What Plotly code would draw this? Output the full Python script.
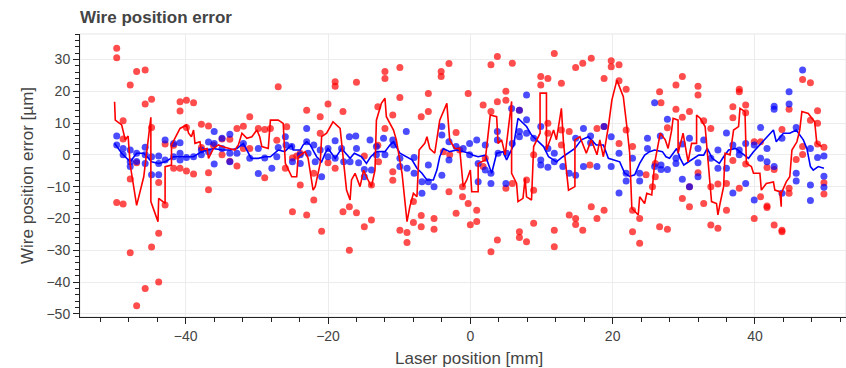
import plotly.graph_objects as go

# ---- data ----
red_x = [-49.7,-49.7,-48.8,-48.8,-49.7,-48.8,-47.8,-47.8,-47.8,-46.9,-46.9,-46.9,-45.7,-45.7,-45.7,-44.8,-44.8,-44.8,-43.8,-43.8,-43.8,-42.9,-42.9,-41.7,-41.7,-40.8,-40.8,-40.8,-39.9,-39.9,-39.9,-38.9,-38.9,-37.8,-37.8,-36.8,-36.8,-36.8,-36.1,-34.9,-34.9,-33.8,-33.8,-32.8,-32.8,-31.9,-31.9,-31.0,-31.0,-29.8,-28.9,-28.9,
         -27.0,-28.1,-27.2,-26.0,-25.8,-25.0,-25.0,-23.9,-23.9,-23.0,-23.0,-22.0,-22.0,-21.1,-21.1,-20.9,-20.0,-20.0,-19.0,-19.0,-19.0,-17.9,-17.9,-17.0,-17.0,-16.0,-16.0,-14.9,-14.9,-13.9,-13.9,-13.0,-13.0,-12.9,-12.0,-12.0,-12.0,-10.9,-10.9,-10.9,-9.9,-9.9,-9.9,-8.9,-8.9,-8.0,-8.0,-6.9,-6.9,-6.9,-5.9,-5.9,-5.1,-5.1,-4.1,-4.1,-3.0,-3.0,-2.0,-2.0,-1.1,-1.1,-0.3,-0.3,-3.8,-2.9,-24.4,
         -1.5,0.0,0.9,0.9,1.8,1.8,2.1,2.9,2.9,2.9,3.8,3.8,3.8,5.0,5.0,5.0,5.9,5.9,6.9,6.9,6.9,7.9,7.9,8.9,8.9,8.9,9.9,9.9,10.9,10.9,10.9,11.8,11.8,11.8,12.8,12.8,12.8,13.9,13.9,14.8,14.8,14.8,15.8,15.8,16.8,17.0,17.0,17.8,17.8,18.8,18.8,18.8,19.8,19.8,20.9,20.9,21.9,21.9,22.8,22.8,22.8,23.8,23.8,24.7,25.6,26.6,26.6,20.9,
         26.0,26.0,26.8,27.7,27.7,28.9,28.9,29.8,29.8,29.8,30.8,30.8,30.8,32.0,32.0,32.0,32.8,32.8,33.8,33.8,33.8,34.8,34.8,36.0,36.0,36.9,36.9,36.9,37.8,37.8,37.8,38.7,38.7,38.7,39.9,39.9,40.8,40.8,41.7,41.7,41.7,42.7,42.7,43.8,43.8,43.8,44.8,44.8,44.8,45.8,46.7,46.7,46.7,47.8,47.8,48.8,48.8,48.8,49.7,49.7,49.7]
red_y = [33.5,30.5,10.7,5.0,-15.0,-15.5,22.0,-7.6,-30.8,26.2,-2.5,-47.5,26.7,16.0,-42.0,17.5,8.6,-29.0,-8.7,-24.7,-40.0,3.4,-15.8,-4.2,3.0,16.7,13.8,-4.2,17.2,8.6,-5.1,16.4,-6.0,9.6,2.3,9.1,-5.6,-11.0,3.0,0.0,5.0,4.9,-2.0,8.3,-3.5,9.0,2.0,12.0,2.0,8.3,8.0,-7.2,
         21.4,8.3,4.6,-4.2,8.8,-1.0,-17.9,-9.5,0.5,14.0,-18.9,-5.8,-14.2,12.0,6.8,-24.0,16.0,-2.5,23.0,21.6,-4.2,13.6,-17.9,-16.3,-30.0,22.8,-18.2,-0.4,-22.6,-9.5,-20.5,15.1,3.0,-2.2,26.2,24.0,8.3,12.5,-5.3,-8.0,27.5,18.0,-23.7,-24.4,-27.6,-14.7,-21.3,12.0,-19.1,-22.6,19.3,13.6,-20.0,-23.4,26.2,24.6,28.7,-11.6,7.0,-18.4,-10.0,-13.2,-15.3,19.3,1.0,0.0,-0.4,
         1.5,-22.0,-17.4,-21.0,15.7,-3.7,-1.1,28.3,13.6,-30.5,30.9,16.7,-26.8,20.0,17.2,-10.5,28.8,-9.0,14.0,-24.2,-26.0,-7.9,-27.3,-11.1,-21.5,0.0,24.6,22.0,24.0,9.9,6.8,31.9,-23.7,-28.9,22.5,7.8,3.1,7.3,-18.9,-20.0,-21.9,27.5,28.8,-23.7,-3.2,30.4,-16.3,8.3,-20.0,24.0,8.9,-17.4,29.6,27.7,28.3,23.3,20.6,7.8,2.6,-17.4,-24.2,-20.0,-27.8,-6.3,-10.0,19.8,-22.6,3.6,
         -6.9,-2.7,16.4,8.5,-23.4,22.0,14.3,24.6,11.8,-13.7,13.6,-10.0,-16.3,21.6,18.8,-5.6,-15.3,10.7,8.3,-10.0,-22.1,-9.2,-23.1,-9.0,-17.4,15.1,11.7,-1.8,20.6,19.8,-10.5,15.7,13.2,-2.9,-20.0,4.1,4.1,-13.2,-4.0,-16.1,-16.6,-4.6,-22.1,-23.7,-24.2,8.0,14.3,-10.5,-12.1,-1.5,23.7,2.6,0.1,22.7,10.9,13.9,9.9,3.4,2.4,-8.8,-12.3]

blue_x = [-49.7,-49.7,-48.8,-48.8,-47.8,-47.8,-47.8,-46.9,-46.9,-45.7,-45.7,-45.7,-44.8,-44.8,-43.8,-43.8,-43.8,-42.9,-42.9,-41.7,-41.7,-40.8,-40.8,-40.8,-39.9,-38.9,-37.8,-37.8,-36.8,-36.8,-36.0,-36.0,-36.0,-34.9,-34.9,-33.8,-33.8,-33.8,-32.8,-31.9,-31.0,-29.8,-29.8,-28.9,-27.9,
          -27.2,-27.0,-26.0,-25.9,-25.1,-25.0,-23.9,-23.9,-23.0,-23.0,-22.8,-22.0,-21.8,-21.1,-20.9,-20.0,-20.0,-19.0,-19.0,-18.1,-17.8,-17.0,-16.9,-16.1,-16.0,-15.7,-14.9,-14.9,-14.1,-13.9,-13.2,-13.2,-12.2,-12.0,-10.9,-10.8,-9.9,-9.9,-9.0,-8.9,-7.9,-7.9,-6.8,-6.8,-5.9,-5.9,-5.1,-4.0,-4.0,-4.0,-3.0,-3.0,-2.0,-1.0,-0.1,-0.1,
          0.9,1.1,1.1,2.1,2.1,2.9,2.9,3.8,3.8,3.9,5.0,5.1,5.8,5.9,6.9,6.9,6.9,7.9,7.9,7.9,8.9,9.9,9.9,9.9,10.9,10.9,11.8,11.8,13.0,13.9,14.8,14.8,15.9,15.9,16.9,16.9,17.8,18.8,19.8,19.8,20.9,20.9,21.9,21.9,22.8,23.8,23.8,24.9,24.9,25.9,25.9,26.7,
          26.8,26.8,27.7,27.7,28.9,28.9,29.8,29.8,30.8,30.8,32.0,32.0,32.0,32.8,33.8,34.8,34.8,36.0,36.0,36.9,36.9,37.8,37.8,38.7,38.7,39.9,39.9,40.8,40.8,41.7,41.7,42.7,42.7,42.7,43.8,43.8,44.8,44.8,45.8,45.8,45.8,46.7,47.8,47.8,47.8,48.8,49.7,49.7,49.7]
blue_y = [5.9,3.1,2.0,0.0,1.5,-2.2,-3.7,0.5,-2.1,2.4,0.0,-2.7,-0.6,-6.3,-0.4,-2.7,-6.3,4.7,-1.6,3.6,-0.6,3.8,0.5,-1.6,-0.8,-0.6,1.5,0.0,4.0,1.0,7.3,3.6,-2.9,5.2,2.0,6.5,0.5,-2.2,0.5,3.6,-1.1,2.0,-5.9,-1.0,-4.2,
          -0.6,2.3,5.7,3.1,2.6,-2.2,0.0,-2.7,8.3,4.1,0.5,3.1,-2.2,1.5,-6.9,2.0,-0.6,4.4,-1.1,2.0,-2.2,5.7,-2.2,5.9,2.0,-2.5,-4.6,-6.9,4.7,-4.8,2.6,0.0,5.2,0.0,4.7,3.1,-1.1,-3.7,7.3,-4.2,-0.8,-5.8,-12.1,-8.5,-8.5,-3.2,-10.0,8.9,6.2,-6.4,-1.6,4.1,2.6,2.0,3.6,0.0,
          4.7,-2.7,-8.5,3.1,-4.8,-5.8,-9.0,7.3,4.7,0.5,-9.0,0.5,14.6,3.6,14.0,7.3,5.7,18.8,11.0,6.8,5.2,8.9,-1.6,-3.2,2.0,-3.9,-2.2,0.5,-3.7,-5.8,-6.4,5.2,8.3,-3.7,5.9,3.8,-3.7,8.9,5.7,-3.7,0.5,-12.0,-5.8,-8.2,-1.1,-5.8,-8.2,5.2,2.0,16.4,-3.7,5.9,
          -3.2,-4.6,11.2,-4.6,-1.1,-2.7,3.4,-7.7,5.2,-10.0,2.0,-2.5,-6.9,4.7,-1.1,1.5,-4.2,6.9,-4.2,3.1,-12.0,1.5,0.0,3.6,-9.0,3.1,-14.2,8.6,-1.1,2.0,-2.2,-3.7,15.3,14.3,5.2,-12.1,19.8,16.0,8.6,-5.8,-8.2,26.7,2.0,-9.5,-14.4,-0.8,-0.4,-6.7,-10.2]

blue_line_x = [-50,-49,-47.8,-46.9,-45.9,-44.8,-43.8,-42.9,-41.7,-40.1,-38.9,-37.8,-36.8,-36.1,-34.9,-33.8,-32.8,-31.9,-30.8,-29.8,-28.9,
               -28.1,-27,-26.1,-25.1,-24.9,-23.9,-23.5,-23,-22.5,-22,-21.6,-20.9,-20.4,-20,-19,-18.1,-17.4,-16.9,-16.3,-15.3,-14.6,-14,-13.2,-12,-11.3,-10.8,-9.9,-9,-8.2,-7.5,-6.8,-6.1,-5.2,-4.7,-4.3,-3.8,-2.9,-1.9,-1,-0.1,
               0.4,1.1,2.1,3,3.7,4.6,5.1,5.6,6.1,6.7,7.9,8.6,9.3,10.3,11,12.1,13,13.8,14.7,15.6,16.6,17.7,18.7,19.4,20.1,21,21.7,22.4,23.1,23.8,24.5,
               25.2,25.9,27,27.5,28,29,29.5,30,30.7,31.4,32.1,32.8,33.3,34,35,35.6,36.3,37.3,38.2,39.1,39.8,40.2,40.9,41.6,42.6,43,44,44.9,45.8,46.8,47.3,47.8,48.2,48.9,49.7]
blue_line_y = [3.6,0.5,-2.2,0.5,0.5,-2.2,-2.7,-2.2,-0.6,-0.6,-0.6,1,1.5,2,1.5,1.5,2,3.6,-1.1,-1.1,-0.6,
               -0.6,1.5,1,3.1,1.5,1.5,3.1,4.1,3.1,1,-0.6,-2.2,0.5,2,-1.1,2,0,-1.1,0.5,-0.6,-2.7,-0.6,1,1,3.1,4.1,0.5,-0.6,-1.6,-4.2,-5.8,-7.9,-7.9,-4.8,-0.6,2,1,1.5,1,0.5,
               -0.1,-0.6,-0.1,-5.8,0.5,1,-1.6,0.5,3.1,11.5,8.9,6.2,4.7,2.6,-0.6,-2.2,-0.6,0.5,2,4.7,5.7,3.1,3.1,-1.1,-1.6,-2.2,-5.8,-6.8,-6.3,-2.7,-0.1,
               1,1.5,1,-0.6,-1.1,2,-1.1,-3.2,-2.2,-1.1,-0.1,-0.1,2,-1.1,-2.7,-0.6,1.5,2,0.5,-1.1,1,2,3.6,5.2,7.8,4.1,6.8,6.8,7.8,4.7,2,-3.7,-4.8,-3.7,-4.2]

red_line_x = [-50,-49.9,-49,-48.5,-48.1,-47.8,-46.9,-45.9,-44.9,-44.9,-43.9,-43.8,-42.9,-42.9,-42,-42,-40.8,-39.9,-39.6,-39.2,-38.9,-38.7,-38,-37.8,-37,-36.8,-36.1,-35.4,-34.9,-34,-33.1,-32.6,-32.1,-31.4,-30.7,-30,-29.6,-29.3,-28.4,
              -28.1,-27,-26.3,-26,-25.1,-24.4,-24.2,-23.2,-22.8,-22.1,-21.8,-21.1,-20.9,-20.2,-19.3,-18.3,-17.4,-16.9,-16.7,-16.2,-15.5,-15,-14.6,-13.9,-13.4,-13.2,-12.5,-12,-11.8,-10.8,-10.4,-9.6,-8.9,-8.5,-8,-7.5,-7.2,-6.4,-6.1,-5.7,-5,-4.3,-3.3,-2.9,-2.2,-1.5,-1,-0.5,0,
              0.2,1.1,1.1,2.1,2.8,3.7,3.9,4.4,4.9,5.8,5.8,6.5,6.7,7.4,7.7,7.9,8.6,8.9,9.8,9.8,10.7,10.7,11.7,12.1,12.8,13.1,13.8,14.7,14.7,15.4,16.3,17,17.8,18.2,18.7,19.4,19.9,20.6,21.5,22,22.4,22.7,23.6,23.8,24.5,24.8,25.5,
              25.9,26.7,27.4,27.8,28.3,28.5,29.2,29.2,29.9,30.6,31.1,31.8,31.8,32.3,33,33.4,33.9,34.6,34.8,35.1,35.6,35.8,36.5,37,37.7,37.9,38.6,38.8,39.5,39.8,40.7,40.9,41.6,42.6,42.8,43.5,43.7,43.7,44.4,44.9,45.2,45.9,46.3,46.6,47.5,48,48.4,48.7,49.4]
red_line_y = [16.7,10.9,9.4,4.7,5.9,-3.2,-15.9,-6.9,11.8,-14.7,-21,-13.7,-15.3,-3.7,-3.2,3.1,8.3,9.4,6.8,5.7,7.8,3.6,4.1,1.5,2,-1.1,2,3.1,2.6,2,1.5,3.1,6.8,5.2,5.7,7.8,5.7,2.6,2,
              10.9,10.9,9.9,-2.7,-6.9,-6.9,-0.6,1,-1.1,-11.1,-10,-2.7,5.7,6.8,10.4,8.3,-11.1,-14.2,-7.9,-5.8,-10,-4.8,-6.9,-10,-4.8,10.9,16.2,17.8,12,7.8,4.7,-5.8,-21,-16.3,-12.1,-13.2,1.5,3.6,5.7,2,0.5,10.9,16.2,4.7,2,2,-10,-7.9,-4.8,
              -11.6,-11.6,-2.7,-1.6,12.5,12,3.6,4.7,0,16.8,-5.8,-9,-14.7,-13.7,-7.4,-13.2,-14.2,2.6,6.8,19.4,19.4,1.5,7.8,4.7,14.6,3.6,-11.1,-10,4.7,5.7,0.5,4.7,0,4.7,-0.6,8.9,17.3,23.5,18.3,8.9,0.5,-16.8,-18.9,-13.2,-15.3,-12.1,-12.6,
              -2.7,6.8,4.7,2,7.8,11.5,10.9,0.5,6.8,-2.2,3.6,3.6,12.5,11.5,8.9,-2.7,-14.7,-15.3,-18.9,-15.3,-10,0.5,0,7.8,8.9,14.6,13.6,-2.7,-3.7,-5.8,-5.8,-11.1,-9,-8.5,-11.1,-11.6,-16.3,-12.1,-8.5,-6.9,1.5,4.1,7.8,13.6,13,11.5,10.4,3.6,2.6]

# ---- figure ----
FONT = "Liberation Sans, Arial, Helvetica, sans-serif"
fig = go.Figure()
fig.add_trace(go.Scatter(x=red_x, y=red_y, mode="markers",
                         marker=dict(size=7, color="rgba(255,0,0,0.7)", line=dict(width=0)),
                         showlegend=False, hoverinfo="skip"))
fig.add_trace(go.Scatter(x=blue_x, y=blue_y, mode="markers",
                         marker=dict(size=7, color="rgba(0,0,255,0.7)", line=dict(width=0)),
                         showlegend=False, hoverinfo="skip"))
fig.add_trace(go.Scatter(x=blue_line_x, y=blue_line_y, mode="lines",
                         line=dict(color="#0000ff", width=1.6), showlegend=False, hoverinfo="skip"))
fig.add_trace(go.Scatter(x=red_line_x, y=red_line_y, mode="lines",
                         line=dict(color="#ff0000", width=1.6), showlegend=False, hoverinfo="skip"))

axis_common = dict(showline=True, linecolor="#222", linewidth=1, ticks="outside", ticklen=6,
                   tickcolor="#222", tickwidth=1, showgrid=True, gridcolor="#ececec", gridwidth=1,
                   zeroline=False, tickfont=dict(family=FONT, size=14, color="#444"),
                   title_font=dict(family=FONT, size=17, color="#444"))

fig.update_layout(
    width=846, height=368,
    margin=dict(l=80, r=0, t=34, b=51),
    paper_bgcolor="white", plot_bgcolor="white",
    title=dict(text="<b>Wire position error</b>", x=80/846, xanchor="left",
               y=1-17/368, yanchor="middle", yref="container",
               font=dict(family=FONT, size=17, color="#444")),
    xaxis=dict(range=[-54.86, 52.8], dtick=20, tick0=0,
               minor=dict(dtick=4, tick0=0, ticks="outside", ticklen=4, tickcolor="#222", showgrid=False),
               **axis_common),
    yaxis=dict(range=[-51.0, 38.0], dtick=10, tick0=0, title=dict(text="Wire position error [µm]", standoff=8),
               minor=dict(dtick=2, tick0=0, ticks="outside", ticklen=4, tickcolor="#222", showgrid=False),
               **axis_common),
    annotations=[dict(text="Laser position [mm]", xref="paper", yref="paper",
                      x=(469 - 80) / 766, y=-41 / 283, xanchor="center", yanchor="middle",
                      showarrow=False, font=dict(family=FONT, size=17, color="#444"))],
    shapes=[dict(type="rect", xref="paper", yref="paper", x0=0, x1=1, y0=0, y1=1,
                 line=dict(color="#e5e5e5", width=1), layer="below")],
)

fig.write_html("out.html")
